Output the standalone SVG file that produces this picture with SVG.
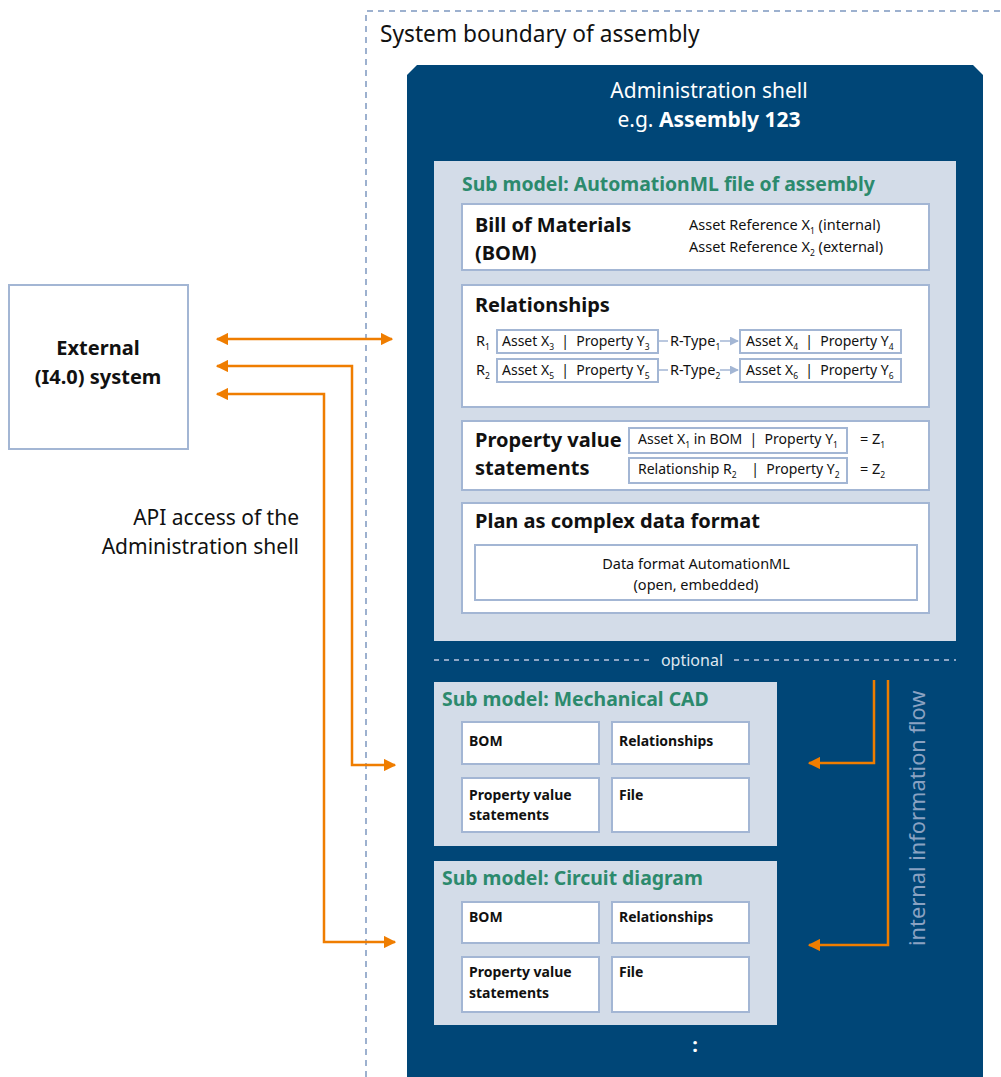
<svg xmlns="http://www.w3.org/2000/svg" width="1001" height="1077" viewBox="0 0 1001 1077">
<defs>
<style>
text{font-family:"Noto Sans",Lato,"Liberation Sans",sans-serif;fill:#111}
.b{font-weight:bold}
.w{fill:#fff}
.g{fill:#2c8a6d;font-weight:bold;font-size:19.4px}
.box{fill:#fff;stroke:#a3b6d4;stroke-width:2}
.sbox{fill:#fff;stroke:#a3b6d4;stroke-width:2}
.panel{fill:#d3dce8}
.or{fill:none;stroke:#ef7d00;stroke-width:2.5}
.rt{fill:none;stroke:#a3b6d4;stroke-width:1.5}
.s{font-size:14.5px}
.t{font-size:14px}
.sub{font-size:8.5px}
.hd{font-size:20px;font-weight:bold}
.sm{font-size:14px;font-weight:bold}
</style>
<marker id="oa" viewBox="0 0 10 10" refX="9" refY="5" markerWidth="5" markerHeight="5" orient="auto-start-reverse" markerUnits="strokeWidth"><path d="M0,0 L10,5 L0,10 z" fill="#ef7d00"/></marker>
<marker id="ba" viewBox="0 0 10 10" refX="9" refY="5" markerWidth="6" markerHeight="6" orient="auto" markerUnits="strokeWidth"><path d="M0,0 L10,5 L0,10 z" fill="#a3b6d4"/></marker>
</defs>
<rect width="1001" height="1077" fill="#fff"/>

<g id="system-boundary">
<path d="M366,1077 V11 H1001" fill="none" stroke="#9db1cf" stroke-width="2" stroke-dasharray="6,5"/>
<text x="380" y="42" font-size="22.7">System boundary of assembly</text>
</g>

<g id="admin-shell">
<path d="M417,65 H973 L983,75 V1077 H407 V75 Z" fill="#004677"/>
<text class="w" x="709" y="98" font-size="21" text-anchor="middle">Administration shell</text>
<text class="w" x="709" y="127" font-size="21" text-anchor="middle">e.g. <tspan font-weight="bold">Assembly 123</tspan></text>
<text x="695" y="1052" class="w" font-size="20" font-weight="bold" text-anchor="middle">:</text>
</g>

<g id="submodel-aml">
<rect class="panel" x="434" y="161" width="522" height="480"/>
<text class="g" x="462" y="191">Sub model: AutomationML file of assembly</text>
</g>

<g id="bom">
<rect class="box" x="462" y="204" width="467" height="66"/>
<text class="hd" x="475" y="232">Bill of Materials</text>
<text class="hd" x="475" y="260">(BOM)</text>
<text class="s" x="689" y="230">Asset Reference X<tspan class="sub" dy="4">1</tspan><tspan dy="-4"> (internal)</tspan></text>
<text class="s" x="689" y="252">Asset Reference X<tspan class="sub" dy="4">2</tspan><tspan dy="-4"> (external)</tspan></text>
</g>

<g id="relationships">
<rect class="box" x="462" y="285" width="467" height="122"/>
<text class="hd" x="475" y="312">Relationships</text>
<text class="s" x="476" y="346">R<tspan class="sub" dy="4">1</tspan></text>
<rect class="sbox" x="497" y="330" width="161" height="23"/>
<text class="t" x="502" y="346">Asset X<tspan class="sub" dy="4">3</tspan><tspan dy="-4">&#160;&#160;|&#160;&#160;Property Y</tspan><tspan class="sub" dy="4">3</tspan></text>
<text class="s" x="670" y="346">R-Type<tspan class="sub" dy="4">1</tspan></text>
<rect class="sbox" x="740" y="330" width="161" height="23"/>
<text class="t" x="746" y="346">Asset X<tspan class="sub" dy="4">4</tspan><tspan dy="-4">&#160;&#160;|&#160;&#160;Property Y</tspan><tspan class="sub" dy="4">4</tspan></text>
<text class="s" x="476" y="375">R<tspan class="sub" dy="4">2</tspan></text>
<rect class="sbox" x="497" y="359" width="161" height="23"/>
<text class="t" x="502" y="375">Asset X<tspan class="sub" dy="4">5</tspan><tspan dy="-4">&#160;&#160;|&#160;&#160;Property Y</tspan><tspan class="sub" dy="4">5</tspan></text>
<text class="s" x="670" y="375">R-Type<tspan class="sub" dy="4">2</tspan></text>
<rect class="sbox" x="740" y="359" width="161" height="23"/>
<text class="t" x="746" y="375">Asset X<tspan class="sub" dy="4">6</tspan><tspan dy="-4">&#160;&#160;|&#160;&#160;Property Y</tspan><tspan class="sub" dy="4">6</tspan></text>
</g>

<g id="property-values">
<rect class="box" x="462" y="421" width="467" height="69"/>
<text class="hd" x="475" y="447">Property value</text>
<text class="hd" x="475" y="475">statements</text>
<rect class="sbox" x="629" y="428" width="218" height="25"/>
<text class="t" x="638" y="444">Asset X<tspan class="sub" dy="4">1</tspan><tspan dy="-4"> in BOM&#160;&#160;|&#160;&#160;Property Y</tspan><tspan class="sub" dy="4">1</tspan></text>
<text class="s" x="860" y="444">= Z<tspan class="sub" dy="4">1</tspan></text>
<rect class="sbox" x="629" y="458" width="218" height="25"/>
<text class="t" x="638" y="474">Relationship R<tspan class="sub" dy="4">2</tspan><tspan dy="-4">&#160;&#160;&#160;&#160;|&#160;&#160;Property Y</tspan><tspan class="sub" dy="4">2</tspan></text>
<text class="s" x="860" y="474">= Z<tspan class="sub" dy="4">2</tspan></text>
</g>

<g id="plan">
<rect class="box" x="462" y="503" width="467" height="110"/>
<text class="hd" x="475" y="528">Plan as complex data format</text>
<rect class="sbox" x="475" y="545" width="442" height="55"/>
<text class="s" x="696" y="569" text-anchor="middle">Data format AutomationML</text>
<text class="s" x="696" y="590" text-anchor="middle">(open, embedded)</text>
</g>

<g id="optional">
<path d="M434,660 H650 M734,660 H956" stroke="#8ea6c6" stroke-width="2" stroke-dasharray="5,5"/>
<text x="692" y="666" font-size="16" text-anchor="middle" style="fill:#dfe6ef">optional</text>
</g>

<g id="submodel-mcad">
<rect class="panel" x="434" y="682" width="343" height="164"/>
<text class="g" x="442" y="706">Sub model: Mechanical CAD</text>
<rect class="box" x="462" y="722" width="137" height="42"/>
<text class="sm" x="469" y="746">BOM</text>
<rect class="box" x="612" y="722" width="137" height="42"/>
<text class="sm" x="619" y="746">Relationships</text>
<rect class="box" x="462" y="778" width="137" height="54"/>
<text class="sm" x="469" y="800">Property value</text>
<text class="sm" x="469" y="820">statements</text>
<rect class="box" x="612" y="778" width="137" height="54"/>
<text class="sm" x="619" y="800">File</text>
</g>

<g id="submodel-circuit">
<rect class="panel" x="434" y="861" width="343" height="164"/>
<text class="g" x="442" y="885">Sub model: Circuit diagram</text>
<rect class="box" x="462" y="902" width="137" height="41"/>
<text class="sm" x="469" y="922">BOM</text>
<rect class="box" x="612" y="902" width="137" height="41"/>
<text class="sm" x="619" y="922">Relationships</text>
<rect class="box" x="462" y="957" width="137" height="55"/>
<text class="sm" x="469" y="977">Property value</text>
<text class="sm" x="469" y="998">statements</text>
<rect class="box" x="612" y="957" width="137" height="55"/>
<text class="sm" x="619" y="977">File</text>
</g>

<g id="external-system">
<rect x="9" y="285" width="179" height="164" fill="#fff" stroke="#a3b6d4" stroke-width="2"/>
<text class="b" x="98" y="355" font-size="20" text-anchor="middle">External</text>
<text class="b" x="98" y="384" font-size="20" text-anchor="middle">(I4.0) system</text>
</g>

<g id="api-label">
<text x="299" y="525" font-size="21" text-anchor="end">API access of the</text>
<text x="299" y="554" font-size="21" text-anchor="end">Administration shell</text>
</g>

<g id="info-flow-label">
<text transform="translate(925,946) rotate(-90)" font-size="21.8" style="fill:#8aa2c2">internal information flow</text>
</g>

<g id="connectors">
<path class="or" d="M217,339 H392" marker-start="url(#oa)" marker-end="url(#oa)"/>
<path class="or" d="M217,366 H352 V765 H395" marker-start="url(#oa)" marker-end="url(#oa)"/>
<path class="or" d="M217,394 H324 V942 H395" marker-start="url(#oa)" marker-end="url(#oa)"/>
<path class="or" d="M874,680 V763 H809" marker-end="url(#oa)"/>
<path class="or" d="M888,680 V945 H809" marker-end="url(#oa)"/>
<path class="rt" d="M658,341 H668"/>
<path class="rt" d="M720,341 H738" marker-end="url(#ba)"/>
<path class="rt" d="M658,370 H668"/>
<path class="rt" d="M720,370 H738" marker-end="url(#ba)"/>
</g>
</svg>
